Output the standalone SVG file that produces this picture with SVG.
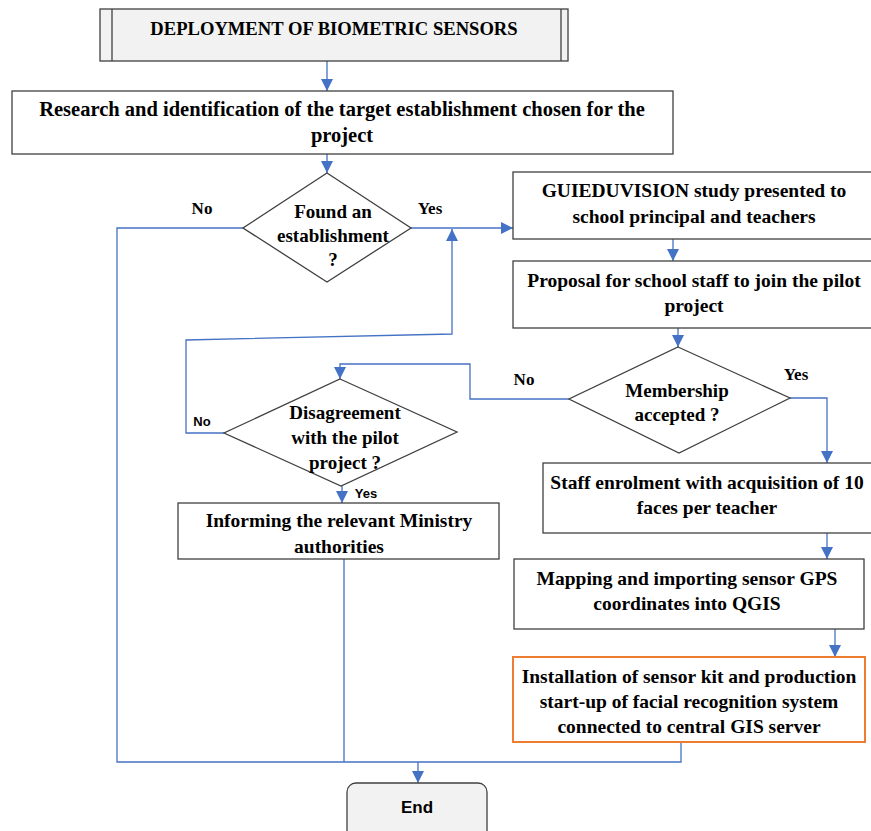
<svg xmlns="http://www.w3.org/2000/svg" width="871" height="831" viewBox="0 0 871 831">
<defs>
<marker id="arr" markerUnits="userSpaceOnUse" markerWidth="12" markerHeight="12" viewBox="0 0 10 10" refX="10" refY="5" orient="auto">
<path d="M0,0 L10,5 L0,10 z" fill="#4472c4"/>
</marker>
<style>
.box{fill:#ffffff;stroke:#404040;stroke-width:1.3}
.grey{fill:#f2f2f2;stroke:#404040;stroke-width:1.3}
.orange{fill:#ffffff;stroke:#ed7d31;stroke-width:2}
.t{font-family:"Liberation Serif","Times New Roman",serif;font-weight:bold;font-size:19.5px;fill:#000;text-anchor:middle}
.d{font-family:"Liberation Serif","Times New Roman",serif;font-weight:bold;font-size:19px;fill:#000;text-anchor:middle}
.lab{font-family:"Liberation Serif","Times New Roman",serif;font-weight:bold;font-size:17px;fill:#000;text-anchor:middle}
.sl{font-family:"Liberation Sans",Arial,sans-serif;font-weight:bold;font-size:13px;fill:#000;text-anchor:middle}
.c{fill:none;stroke:#4472c4;stroke-width:1.3}
.ca{fill:none;stroke:#4472c4;stroke-width:1.3;marker-end:url(#arr)}
</style>
</defs>
<rect width="871" height="831" fill="#ffffff"/>

<g id="connectors">
<path class="ca" d="M327,61 V91"/>
<path class="ca" d="M327,154 V173"/>
<path class="ca" d="M411,228 H513"/>
<path class="c" d="M243,228 H117 V762 H681 V742"/>
<path class="c" d="M344,559 V762"/>
<path class="ca" d="M418,762 V783"/>
<path class="ca" d="M673,239 V261"/>
<path class="ca" d="M678,328 V347"/>
<path class="ca" d="M790,398 H827 V463"/>
<path class="ca" d="M569,399 H470 V364 H340 V379"/>
<path class="ca" d="M224,433 H186 V340 L452,334 V229"/>
<path class="ca" d="M342,486 V503"/>
<path class="ca" d="M827,533 V559"/>
<path class="ca" d="M835,629 V657"/>
</g>

<g id="n-start">
<rect class="grey" x="100" y="9" width="468" height="52"/>
<line x1="112" y1="9" x2="112" y2="61" stroke="#404040" stroke-width="1.3"/>
<line x1="561" y1="9" x2="561" y2="61" stroke="#404040" stroke-width="1.3"/>
<text class="t" x="334" y="35" style="font-size:18.6px">DEPLOYMENT OF BIOMETRIC SENSORS</text>
</g>

<g id="n-research">
<rect class="box" x="12" y="91" width="661" height="63"/>
<text class="t" x="342" y="116" style="font-size:20.5px">Research and identification of the target establishment chosen for the</text>
<text class="t" x="342" y="142" style="font-size:20.5px">project</text>
</g>

<g id="n-found">
<polygon class="box" points="327,173 411,228 327,282 243,228"/>
<text class="d" x="333" y="218">Found an</text>
<text class="d" x="333" y="242">establishment</text>
<text class="d" x="333" y="266">?</text>
</g>
<text class="lab" x="202" y="214">No</text>
<text class="lab" x="430" y="214">Yes</text>

<g id="n-guieduvision">
<rect class="box" x="513" y="172" width="363" height="67"/>
<text class="t" x="694" y="197">GUIEDUVISION study presented to</text>
<text class="t" x="694" y="223">school principal and teachers</text>
</g>

<g id="n-proposal">
<rect class="box" x="513" y="261" width="363" height="67"/>
<text class="t" x="694" y="287">Proposal for school staff to join the pilot</text>
<text class="t" x="694" y="312">project</text>
</g>

<g id="n-membership">
<polygon class="box" points="678,347 790,398 679,453 569,399"/>
<text class="d" x="677" y="397">Membership</text>
<text class="d" x="677" y="421">accepted ?</text>
</g>
<text class="lab" x="524" y="385">No</text>
<text class="lab" x="796" y="380">Yes</text>

<g id="n-disagreement">
<polygon class="box" points="340,379 457,432 341,486 224,433"/>
<text class="d" x="345" y="419">Disagreement</text>
<text class="d" x="345" y="444">with the pilot</text>
<text class="d" x="345" y="469">project ?</text>
</g>
<text class="sl" x="202" y="426">No</text>
<text class="sl" x="366" y="498">Yes</text>

<g id="n-informing">
<rect class="box" x="178" y="503" width="321" height="56"/>
<text class="t" x="339" y="527">Informing the relevant Ministry</text>
<text class="t" x="339" y="553">authorities</text>
</g>

<g id="n-staff">
<rect class="box" x="543" y="463" width="333" height="70"/>
<text class="t" x="707" y="489">Staff enrolment with acquisition of 10</text>
<text class="t" x="707" y="514">faces per teacher</text>
</g>

<g id="n-mapping">
<rect class="box" x="514" y="559" width="350" height="70"/>
<text class="t" x="687" y="585">Mapping and importing sensor GPS</text>
<text class="t" x="687" y="610">coordinates into QGIS</text>
</g>

<g id="n-installation">
<rect class="orange" x="513" y="657" width="352" height="85"/>
<text class="t" x="689" y="683">Installation of sensor kit and production</text>
<text class="t" x="689" y="708">start-up of facial recognition system</text>
<text class="t" x="689" y="733">connected to central GIS server</text>
</g>

<g id="n-end">
<rect class="grey" x="347" y="783" width="140" height="60" rx="9"/>
<text x="417" y="813" font-family="'Liberation Sans',Arial,sans-serif" font-weight="bold" font-size="17" text-anchor="middle">End</text>
</g>
</svg>
